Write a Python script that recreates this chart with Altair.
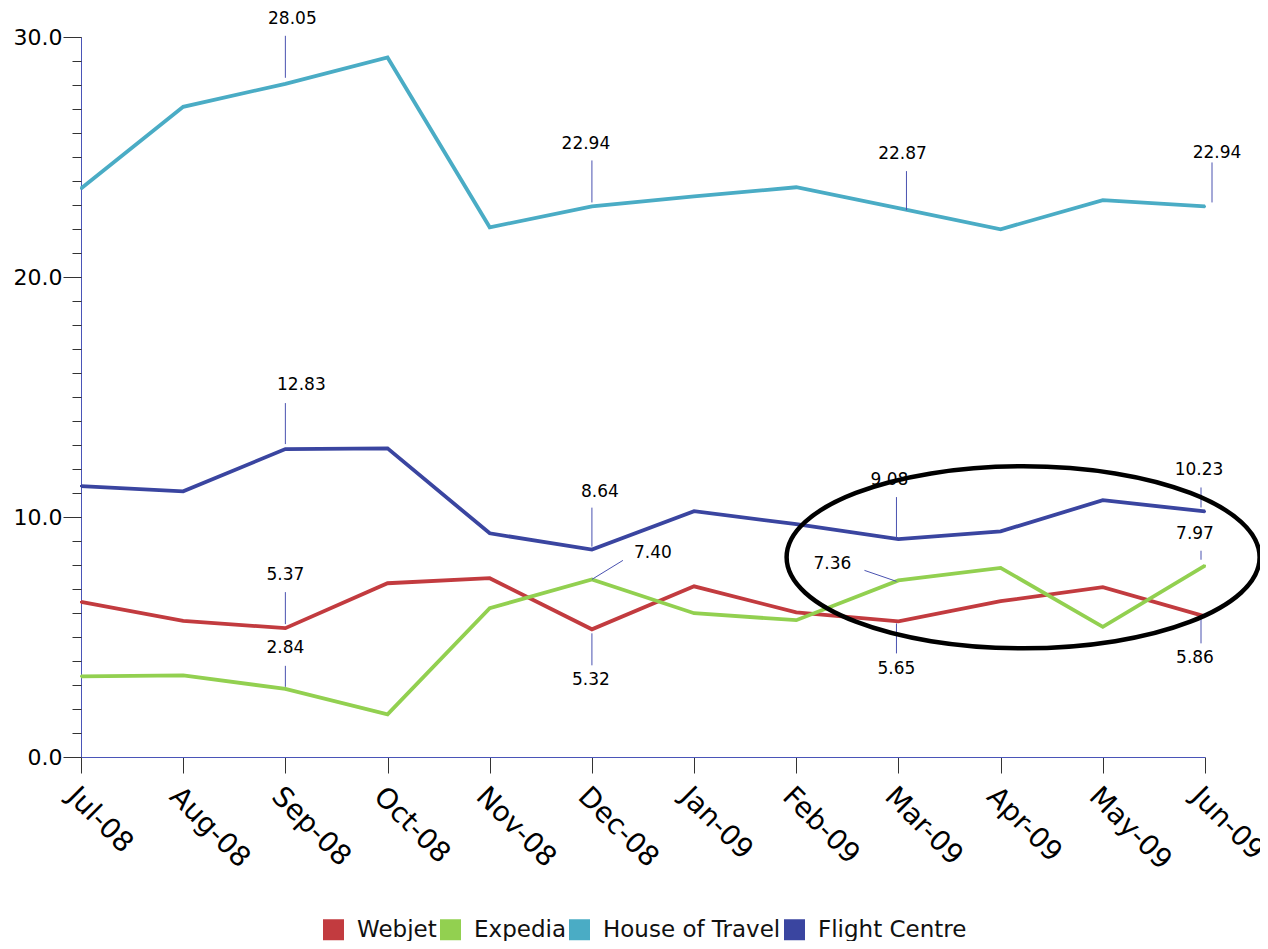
import altair as alt
import pandas as pd

months = ["Jul-08", "Aug-08", "Sep-08", "Oct-08", "Nov-08", "Dec-08",
          "Jan-09", "Feb-09", "Mar-09", "Apr-09", "May-09", "Jun-09"]
series_names = ["Webjet", "Expedia", "House of Travel", "Flight Centre"]
series_colors = ["#c23b3f", "#92d050", "#4aacc5", "#3a45a0"]

webjet = [6.46, 5.67, 5.37, 7.24, 7.45, 5.32, 7.11, 6.03, 5.65, 6.49, 7.08, 5.86]
expedia = [3.36, 3.40, 2.84, 1.78, 6.20, 7.40, 5.99, 5.70, 7.36, 7.88, 5.42, 7.97]
house_of_travel = [23.69, 27.09, 28.05, 29.15, 22.07, 22.94, 23.36, 23.74, 22.87, 21.99, 23.20, 22.94]
flight_centre = [11.29, 11.07, 12.83, 12.86, 9.32, 8.64, 10.24, 9.70, 9.08, 9.40, 10.70, 10.23]
values_by_series = [webjet, expedia, house_of_travel, flight_centre]

# labelled points: series, month index
label_series = ["House of Travel"] * 4 + ["Flight Centre"] * 4 + ["Webjet"] * 4 + ["Expedia"] * 4
label_month = [2, 5, 8, 11] * 4
# label placement offsets in pixels (y positive = down)
text_dx = [7, -6, 4, 12, 16, 8, -9, -6, 0, -1, -2, -10, 0, 61, -66, -10]
text_dy = [-65, -62, -54, -53, -64, -58, -59, -41, -53, 51, 48, 42, -41, -26, -16, -32]
lead_dx1 = [0, 0, 8, 7, 0, 0, -2, -4, 0, 0, -2, -4, 0, 0, -2, -4]
lead_dy1 = [-6, -4, 2, -4, -5, -3, -1, -4, -4, 4, 2, 2, -2, 0, 1, -6]
lead_dx2 = [0, 0, 8, 7, 0, 0, -2, -4, 0, 0, -2, -4, 0, 31, -34, -4]
lead_dy2 = [-48, -46, -37, -44, -46, -42, -42, -24, -36, 36, 32, 27, -23, -19, -10, -15]

# highlight ellipse (data position)
ellipse_center = [9.22, 8.32]

W, H = 1124, 720
PX = W / 11.0
PY = H / 30.0

rows = []
for name, vals in zip(series_names, values_by_series):
    for i, v in enumerate(vals):
        rows.append({"series": name, "idx": i, "value": v})
df = pd.DataFrame(rows)

lab_rows = []
for k in range(len(label_series)):
    s = label_series[k]
    i = label_month[k]
    v = values_by_series[series_names.index(s)][i]
    lab_rows.append({
        "series": s, "text": f"{v:.2f}",
        "tx": i + text_dx[k] / PX, "ty": v - text_dy[k] / PY,
        "lx": i + lead_dx1[k] / PX, "ly": v - lead_dy1[k] / PY,
        "lx2": i + lead_dx2[k] / PX, "ly2": v - lead_dy2[k] / PY,
    })
lab = pd.DataFrame(lab_rows)
ell = pd.DataFrame({"x": [ellipse_center[0]], "y": [ellipse_center[1]]})

FONT = "DejaVu Sans"
AXIS_BLUE = "#4a55b8"

xscale = alt.Scale(domain=[0, 11], nice=False, zero=False)
yscale = alt.Scale(domain=[0, 30], nice=False, zero=False)

month_expr = "[" + ",".join("'" + m + "'" for m in months) + "][datum.value]"
x_axis = alt.Axis(values=list(range(12)), labelExpr=month_expr, labelAngle=45,
                  labelFontSize=28, labelFont=FONT, labelColor="black",
                  labelPadding=9, labelFlush=False, labelOverlap=False,
                  labelLimit=0, tickSize=16, tickColor="#333333",
                  domainColor=AXIS_BLUE, grid=False, title=None, orient="bottom")
y_axis_major = alt.Axis(values=[0, 10, 20, 30], format=".1f", labelFontSize=22,
                        labelFont=FONT, labelColor="black", labelPadding=1,
                        labelFlush=False, labelOverlap=False, tickSize=18,
                        tickColor="#333333", domainColor=AXIS_BLUE, grid=False,
                        title=None, orient="left")
y_axis_minor = alt.Axis(values=list(range(31)), labels=False, tickSize=9,
                        tickColor="#333333", domain=False, grid=False,
                        title=None, orient="left")

color_scale = alt.Scale(domain=series_names, range=series_colors)

lines = alt.Chart(df).mark_line(strokeWidth=3.8).encode(
    x=alt.X("idx:Q", scale=xscale, axis=x_axis),
    y=alt.Y("value:Q", scale=yscale, axis=y_axis_major),
    color=alt.Color("series:N", scale=color_scale, legend=None),
    detail="series:N",
)

squares = alt.Chart(df).mark_square(size=4, filled=True, opacity=1).encode(
    x=alt.X("idx:Q", scale=xscale, axis=None),
    y=alt.Y("value:Q", scale=yscale, axis=y_axis_minor),
    color=alt.Color("series:N", scale=color_scale, sort=series_names,
                    legend=alt.Legend(orient="none", legendX=241, legendY=881,
                                      direction="horizontal", title=None,
                                      symbolType="square", symbolSize=441,
                                      symbolStrokeWidth=0, labelFontSize=23,
                                      labelFont=FONT, labelColor="#111111",
                                      labelLimit=0, labelOffset=12,
                                      columnPadding=2)),
)

leaders = alt.Chart(lab).mark_rule(strokeWidth=1, color="#4a52b0").encode(
    x=alt.X("lx:Q", scale=xscale, axis=None),
    x2="lx2:Q",
    y=alt.Y("ly:Q", scale=yscale, axis=None),
    y2="ly2:Q",
)

texts = alt.Chart(lab).mark_text(font=FONT, fontSize=17, color="black",
                                 align="center", baseline="middle").encode(
    x=alt.X("tx:Q", scale=xscale, axis=None),
    y=alt.Y("ty:Q", scale=yscale, axis=None),
    text="text:N",
)

ellipse = alt.Chart(ell).mark_point(
    shape="M -1 0 A 1 0.385 0 1 1 1 0 A 1 0.385 0 1 1 -1 0 Z",
    size=473 * 473, filled=False, stroke="black", strokeWidth=4.5, opacity=1,
).encode(
    x=alt.X("x:Q", scale=xscale, axis=None),
    y=alt.Y("y:Q", scale=yscale, axis=None),
)

chart = alt.layer(lines, squares, leaders, texts, ellipse).resolve_axis(
    x="independent", y="independent"
).resolve_legend(color="independent").properties(
    width=W, height=H,
    autosize=alt.AutoSizeParams(type="none"),
    padding={"left": 73, "top": 29, "right": 55, "bottom": 184},
).configure(font=FONT).configure_view(stroke="transparent", strokeWidth=0)

chart.save("out.html", embed_options={"renderer": "svg", "actions": False})
